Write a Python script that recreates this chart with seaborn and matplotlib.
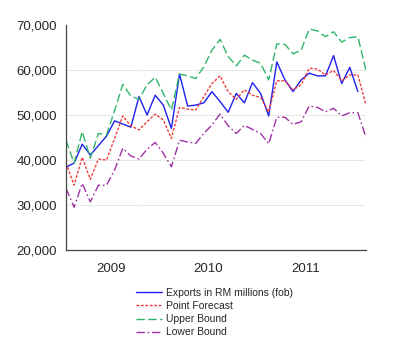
import matplotlib
matplotlib.use("Agg")
import matplotlib.pyplot as plt
import pandas as pd
import seaborn as sns

# monthly values, Jan 2009 .. Feb 2012 (exports end Jan 2012)
exports = [38400, 39300, 43500, 41100, 43200, 45300, 48700, 48000, 47300, 54100,
           50000, 54400, 52200, 47000, 59100, 52000, 52200, 52700, 55200, 53000,
           50600, 54800, 52700, 57200, 54800, 49800, 61800, 57800, 55200, 57800,
           59300, 58700, 58700, 63200, 57000, 60600, 55200]
forecast = [39300, 34400, 40600, 35700, 40200, 40000, 44800, 49800, 47600, 46700,
            48500, 50200, 48900, 44800, 51700, 51300, 51100, 54100, 57000, 58700,
            55200, 53500, 55600, 54400, 53900, 50700, 57600, 57600, 55600, 56700,
            60400, 60200, 58900, 59900, 57600, 58900, 58900, 52200]
upper = [44400, 39300, 46300, 40400, 45900, 45600, 51000, 56800, 54200, 53500,
         56700, 58400, 54800, 51100, 59100, 58700, 58100, 60700, 64400, 66800,
         63000, 60900, 63300, 62200, 61500, 57800, 65800, 65700, 63600, 64400,
         69100, 68700, 67400, 68500, 66200, 67200, 67400, 59900]
lower = [33700, 29500, 34800, 30700, 34400, 34400, 37800, 42600, 40900, 40200,
         42400, 43900, 41500, 38500, 44400, 44000, 43700, 45900, 47800, 50200,
         47600, 45900, 47700, 46800, 45900, 43600, 49500, 49500, 47900, 48500,
         52000, 51700, 50700, 51500, 49800, 50500, 50500, 45000]
years = ["2009", "2010", "2011"]

df = pd.DataFrame({
    "t": range(len(forecast)),
    "Exports in RM millions (fob)": exports + [None],
    "Point Forecast": forecast,
    "Upper Bound": upper,
    "Lower Bound": lower,
})

sns.set_style("white")
plt.rcParams["font.family"] = ["Liberation Sans", "DejaVu Sans"]

fig = plt.figure(figsize=(4.0, 3.61), dpi=100)
ax = fig.add_axes([66 / 400, 1 - 250 / 361, 300 / 400, 225 / 361])

styles = [
    ("Exports in RM millions (fob)", "#1f1fef", "-"),
    ("Point Forecast", "#f03c3c", (0, (2, 1.2))),
    ("Upper Bound", "#2fb56a", (0, (6, 2.5))),
    ("Lower Bound", "#a030a8", (0, (6, 2, 1.2, 2))),
]
for name, col, ls in styles:
    sns.lineplot(x="t", y=name, data=df, ax=ax, color=col, linestyle=ls,
                 linewidth=1.0, label=name, legend=False)

ax.set_xlim(0, 37)
ax.set_ylim(20000, 70000)
ax.set_yticks([20000, 30000, 40000, 50000, 60000, 70000])
ax.set_yticklabels([f"{v:,}" for v in range(20000, 70001, 10000)])
ax.set_xticks([0, 12, 24, 36])
ax.set_xticklabels([])
ax.set_xticks([5.5, 17.5, 29.5], minor=True)
ax.set_xticklabels(years, minor=True)
ax.tick_params(axis="x", which="major", direction="out", length=4, width=0.8, color="#444444")
ax.tick_params(axis="x", which="minor", length=0, pad=9, labelsize=9.5)
ax.tick_params(axis="y", direction="out", length=3.5, width=0.8, color="#444444", pad=3, labelsize=9.5)
ax.set_xlabel("")
ax.set_ylabel("")

ax.yaxis.grid(True, color="#d0d0d0", linestyle=(0, (1, 1)), linewidth=0.7)
glines = ax.get_ygridlines()
glines[0].set_visible(False)
glines[-1].set_visible(False)

for s in ["top", "right"]:
    ax.spines[s].set_visible(False)
for s in ["left", "bottom"]:
    ax.spines[s].set_color("#444444")
    ax.spines[s].set_linewidth(0.9)

handles, labels = ax.get_legend_handles_labels()
fig.legend(handles, labels, loc="upper left", bbox_to_anchor=(136 / 400, 1 - 288 / 361),
           frameon=False, fontsize=7.5, handlelength=2.5, handletextpad=0.4,
           labelspacing=0.3, borderpad=0, borderaxespad=0)

fig.savefig("out.png", dpi=100)
